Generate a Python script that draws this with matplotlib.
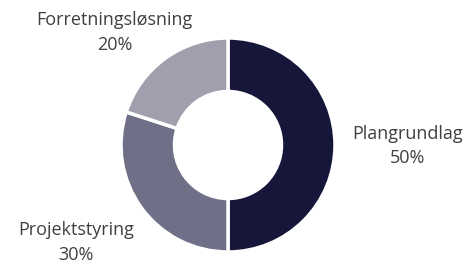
import matplotlib
matplotlib.use("Agg")
import matplotlib.pyplot as plt

categories = ["Plangrundlag", "Projektstyring", "Forretningsløsning"]
values = [50, 30, 20]
colors = ["#16163b", "#6f7088", "#a09fad"]

plt.rcParams['font.family'] = ['Open Sans', 'DejaVu Sans']

fig = plt.figure(figsize=(4.68, 2.66), dpi=100)
ax = fig.add_axes([0, 0, 1, 1])
ax.pie(values, colors=colors, startangle=90, counterclock=False,
       radius=1.0, wedgeprops=dict(width=0.5, edgecolor="white", linewidth=2.5))

# label positions (layout)
label_pos = {
    "Plangrundlag": (1.68, -0.01),
    "Projektstyring": (-1.42, -0.91),
    "Forretningsløsning": (-1.06, 1.05),
}
for cat, v in zip(categories, values):
    x, y = label_pos[cat]
    ax.text(x, y, f"{cat}\n{v}%", ha="center", va="center", fontsize=13,
            color="#404040", linespacing=1.45)

ax.set_xlim(-228 / 107, (468 - 228) / 107)
ax.set_ylim(-(266 - 145) / 107, 145 / 107)
ax.set_aspect("equal", adjustable="datalim")
ax.axis("off")
fig.savefig("out.png", dpi=100)
